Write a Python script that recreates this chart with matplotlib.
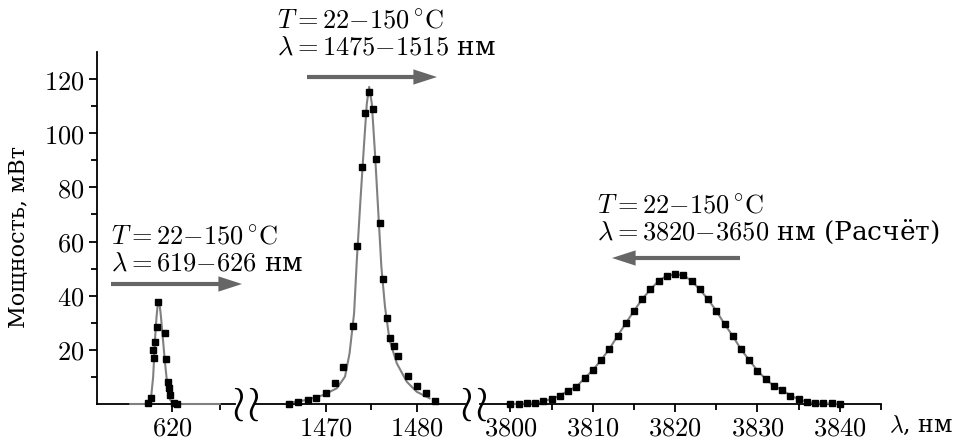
import matplotlib
matplotlib.use('Agg')
import matplotlib.pyplot as plt
from matplotlib.patches import FancyArrowPatch

plt.rcParams['mathtext.fontset'] = 'cm'
plt.rcParams['font.family'] = ['DejaVu Serif']

# ---- данные: участок 1 (около 620 нм)
lam1_pts = [617.47, 617.76, 618.03, 618.11, 618.21, 618.39, 618.56,
            619.26, 619.37, 619.51, 619.68, 619.79, 620.14, 620.49]
pow1_pts = [0.3, 2.1, 20.0, 17.0, 23.0, 28.5, 37.7,
            26.2, 16.6, 8.2, 5.9, 3.3, 0.3, 0.0]
lam1_fit = [615.6, 617.3, 617.6, 617.8, 618.0, 618.1, 618.2, 618.35, 618.5,
            618.56, 618.65, 618.8, 619.0, 619.2, 619.4, 619.6, 619.8, 620.1,
            620.5, 625.0]
pow1_fit = [0.0, 0.0, 0.8, 3.0, 10.0, 17.0, 24.0, 32.0, 37.5,
            38.2, 37.5, 33.0, 25.0, 17.0, 10.0, 4.5, 1.5, 0.2,
            0.0, 0.0]

# ---- участок 2 (около 1475 нм)
lam2_pts = [1465.97, 1466.96, 1467.99, 1468.9, 1469.97, 1470.99, 1471.90,
            1472.93, 1473.37, 1473.92, 1474.29, 1474.76, 1475.13, 1475.49,
            1475.93, 1476.23, 1476.67, 1477.07, 1477.51, 1477.95, 1478.98,
            1479.97, 1480.96, 1482.05]
pow2_pts = [0.0, 0.8, 1.5, 2.3, 4.2, 7.6, 13.8,
            28.8, 58.3, 87.6, 107.6, 115.2, 108.9, 90.4,
            67.0, 46.1, 31.6, 24.5, 21.4, 17.7, 10.4,
            6.6, 4.2, 1.2]
lam2_fit = [1465.7, 1467.9, 1469.7, 1471.2, 1472.1, 1472.6, 1473.1, 1473.4,
            1473.8, 1474.2, 1474.5, 1474.76, 1475.05, 1475.4, 1475.75, 1476.1,
            1476.5, 1477.0, 1477.8, 1478.9, 1480.0, 1481.4]
pow2_fit = [0.3, 1.5, 3.3, 5.8, 10.1, 18.7, 33.5, 53.1,
            75.3, 96.2, 111.0, 117.1, 111.0, 92.5, 71.6, 50.7,
            35.9, 23.6, 15.0, 8.2, 4.5, 2.1]

# ---- участок 3 (расчёт, около 3820 нм)
lam3 = list(range(3800, 3841))
pow3 = [0.0, 0.0, 0.2, 0.3, 1.1, 1.8, 3.1, 4.9, 6.4, 9.5,
        12.5, 16.2, 20.3, 25.1, 29.8, 34.4, 38.7, 42.3, 45.5, 47.4,
        47.9, 47.6, 45.4, 42.3, 38.6, 34.4, 29.5, 25.1, 20.2, 16.2,
        12.3, 9.2, 6.6, 5.2, 3.1, 1.8, 0.8, 0.3, 0.2, 0.2, 0.0]

seg_xlims = [(612.1, 626.6), (1462.2, 1485.3), (3796.3, 3845.0)]
seg_major = [[620], [1470, 1480], [3800, 3810, 3820, 3830, 3840]]
seg_minor = [[625], [1475], [3805, 3815, 3825, 3835, 3845]]
y_major = [20, 40, 60, 80, 100, 120]
y_minor = [10, 30, 50, 70, 90, 110]

W, H = 960, 440
FS = 19
fig = plt.figure(figsize=(W / 100, H / 100), dpi=100)


def fx(px):
    return px / W


def fy(py):
    return 1 - py / H


bottom, height = fy(404), (404 - 52) / H
ax1 = fig.add_axes([fx(97), bottom, fx(235) - fx(97), height])
ax2 = fig.add_axes([fx(255), bottom, fx(465) - fx(255), height])
ax3 = fig.add_axes([fx(480), bottom, fx(881) - fx(480), height])
axes = [ax1, ax2, ax3]

line_c = '#808080'
ax1.plot(lam1_fit, pow1_fit, color=line_c, lw=1.5, zorder=3, clip_on=False)
ax1.plot(lam1_pts, pow1_pts, 's', color='black', ms=4.3, zorder=4, clip_on=False)
ax2.plot(lam2_fit, pow2_fit, color=line_c, lw=1.5, zorder=3, clip_on=False)
ax2.plot(lam2_pts, pow2_pts, 's', color='black', ms=4.3, zorder=4, clip_on=False)
ax3.plot(lam3, pow3, color=line_c, lw=1.5, zorder=3, clip_on=False)
ax3.plot(lam3, pow3, 's', color='black', ms=4.3, zorder=4, clip_on=False)

for i, ax in enumerate(axes):
    ax.set_xlim(*seg_xlims[i])
    ax.set_ylim(0, 130)
    for s in ['top', 'right']:
        ax.spines[s].set_visible(False)
    ax.spines['bottom'].set_linewidth(1.3)
    ax.set_xticks(seg_major[i])
    ax.set_xticklabels([f'${v}$' for v in seg_major[i]], fontsize=FS)
    ax.set_xticks(seg_minor[i], minor=True)
    ax.tick_params(axis='x', which='major', direction='out', length=6, width=1.3, pad=2)
    ax.tick_params(axis='x', which='minor', direction='out', length=4, width=1.3)
    if i == 0:
        ax.spines['left'].set_linewidth(1.3)
        ax.set_yticks(y_major)
        ax.set_yticklabels([f'${v}$' for v in y_major], fontsize=FS)
        ax.set_yticks(y_minor, minor=True)
        ax.tick_params(axis='y', which='major', direction='out', length=6, width=1.3, pad=3)
        ax.tick_params(axis='y', which='minor', direction='out', length=4, width=1.3)
    else:
        ax.spines['left'].set_visible(False)
        ax.set_yticks([])
    ax.patch.set_alpha(0)

# разрывы оси
for bx in [245, 473]:
    fig.text(fx(bx), fy(403), r'$\wr\!\wr$', fontsize=36, ha='center', va='center')

fig.text(fx(19), fy(237), 'Мощность, мВт', rotation=90, fontsize=16,
         ha='center', va='center')
fig.text(fx(889), fy(425), r'$\lambda$, нм', fontsize=17, ha='left', va='center')

# подписи и стрелки
notes = [
    (111, 236, r'$T{=}22{-}150\,^{\circ}\mathrm{C}$', r'$\lambda{=}619{-}626$ нм'),
    (277, 20, r'$T{=}22{-}150\,^{\circ}\mathrm{C}$', r'$\lambda{=}1475{-}1515$ нм'),
    (597, 205, r'$T{=}22{-}150\,^{\circ}\mathrm{C}$', r'$\lambda{=}3820{-}3650$ нм (Расчёт)'),
]
for x, y, l1, l2 in notes:
    fig.text(fx(x), fy(y), l1, fontsize=FS, ha='left', va='center')
    fig.text(fx(x), fy(y + 27), l2, fontsize=FS, ha='left', va='center')

arrows = [((111, 284), (242, 284)), ((307, 77), (437, 77)), ((740, 258), (612, 258))]
for (x0, y0), (x1, y1) in arrows:
    fig.add_artist(FancyArrowPatch((fx(x0), fy(y0)), (fx(x1), fy(y1)),
                                   transform=fig.transFigure,
                                   arrowstyle='simple,head_length=1.7,head_width=1.1,tail_width=0.3',
                                   mutation_scale=10, color='#666666', lw=0,
                                   shrinkA=0, shrinkB=0))

fig.savefig('out.png', dpi=100)
